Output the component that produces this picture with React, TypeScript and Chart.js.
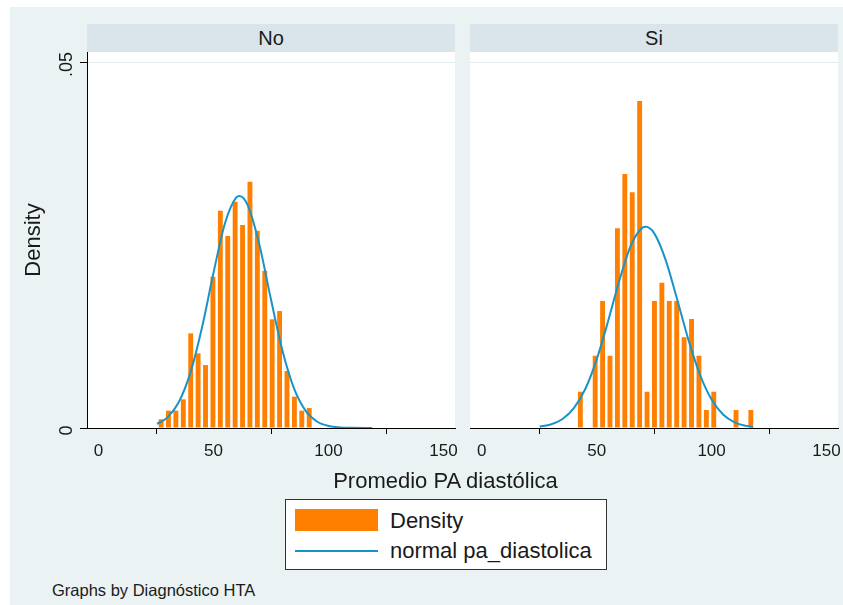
import React, { useEffect, useRef } from "react";
import { Chart, registerables } from "chart.js";

Chart.register(...registerables);

// ---------- data ----------
const panelTitles = ["No", "Si"];
const xTickValues = [0, 50, 100, 150];
const yTickValues = [0, 0.05];
const yTickLabels = ["0", ".05"];

const noBinCenters = [27.21, 30.43, 33.65, 36.87, 40.09, 43.31, 46.53, 49.75, 52.97, 56.19, 59.41, 62.63, 65.85, 69.07, 72.29, 75.51, 78.73, 81.95, 85.17, 88.39, 91.61];
const noDensity = [0.00119, 0.00237, 0.00237, 0.00392, 0.01293, 0.0102, 0.0086, 0.02067, 0.02969, 0.02623, 0.03092, 0.02773, 0.03365, 0.02696, 0.02149, 0.01485, 0.01598, 0.00779, 0.00428, 0.00237, 0.00273];

const siBinCenters = [42.9, 49.35, 52.58, 55.8, 59.03, 62.25, 65.48, 68.7, 71.93, 75.15, 78.38, 81.6, 84.83, 88.05, 91.28, 94.5, 97.73, 100.95, 110.63, 117.08];
const siDensity = [0.00496, 0.00988, 0.01735, 0.00988, 0.02728, 0.0347, 0.0322, 0.04467, 0.00496, 0.01735, 0.01985, 0.01735, 0.01735, 0.01239, 0.01489, 0.00988, 0.00246, 0.00496, 0.00246, 0.00246];

const noCurveX = [25.5, 30, 35, 40, 45, 50, 55, 60, 61.3, 65, 70, 75, 80, 85, 90, 95, 100, 105, 110, 119];
const noCurveY = [0.00056, 0.00145, 0.00359, 0.0076, 0.01373, 0.0212, 0.02798, 0.03153, 0.0317, 0.03036, 0.02498, 0.01755, 0.01054, 0.0054, 0.00237, 0.00089, 0.00028, 0.00008, 0.00002, 0.0];

const siCurveX = [25.2, 30, 35, 40, 45, 50, 55, 60, 65, 70, 71.3, 75, 80, 85, 90, 95, 100, 105, 110, 115, 118];
const siCurveY = [0.00018, 0.00048, 0.0012, 0.00268, 0.0053, 0.00935, 0.01462, 0.0203, 0.02502, 0.02739, 0.0275, 0.02663, 0.02298, 0.0176, 0.01197, 0.00724, 0.00388, 0.00185, 0.00078, 0.00029, 0.00015];

const xTitle = "Promedio PA diastólica";
const yTitle = "Density";
const legendLabels = ["Density", "normal pa_diastolica"];
const note = "Graphs by Diagnóstico HTA";

// ---------- style ----------
const FONT = "'Liberation Sans', Arial, Helvetica, sans-serif";
const ORANGE = "#FF8000";
const BLUE = "#1A93C6";
const BG = "#EAF2F3";
const BAND = "#D9E5EA";
const TEXT = "#1a1a1a";

type PanelProps = {
  left: number;
  width: number;
  binX: number[];
  binY: number[];
  curveX: number[];
  curveY: number[];
  showY: boolean;
};

function Panel({ left, width, binX, binY, curveX, curveY, showY }: PanelProps) {
  const ref = useRef<HTMLCanvasElement | null>(null);
  const yAxisWidth = showY ? 77 : 0;
  const padRight = 10;
  const padTop = 12;
  const canvasW = yAxisWidth + width + padRight;
  const canvasH = 418 + padTop;

  useEffect(() => {
    if (!ref.current) return;
    const yLabelPlugin = {
      id: "yRotLabels",
      afterDraw(chart: any) {
        if (!showY) return;
        const ys = chart.scales.y;
        const ctx = chart.ctx;
        ctx.save();
        ctx.fillStyle = TEXT;
        ctx.font = `18px "Liberation Sans", Arial, sans-serif`;
        ctx.textAlign = "center";
        ctx.textBaseline = "middle";
        yTickValues.forEach((v, i) => {
          const py = ys.getPixelForValue(v);
          ctx.save();
          ctx.translate(ys.right - 20, py + 2.5);
          ctx.rotate(-Math.PI / 2);
          ctx.fillText(yTickLabels[i], 0, 0);
          ctx.restore();
        });
        ctx.restore();
      },
    };

    const chart = new Chart(ref.current, {
      type: "bar",
      data: {
        datasets: [
          {
            type: "line",
            data: curveX.map((x, i) => ({ x, y: curveY[i] })),
            borderColor: BLUE,
            borderWidth: 2,
            pointRadius: 0,
            cubicInterpolationMode: "monotone",
            fill: false,
            order: 0,
          } as any,
          {
            type: "bar",
            data: binX.map((x, i) => ({ x, y: binY[i] })),
            backgroundColor: ORANGE,
            borderWidth: 0,
            barPercentage: 0.66,
            categoryPercentage: 1,
            order: 1,
          } as any,
        ],
      },
      options: {
        animation: false,
        responsive: false,
        maintainAspectRatio: false,
        layout: { padding: { left: 0, top: padTop, right: padRight, bottom: 0 } },
        plugins: { legend: { display: false }, tooltip: { enabled: false } },
        scales: {
          x: {
            type: "linear",
            min: -5,
            max: 155,
            offset: false,
            afterBuildTicks: (s: any) => {
              s.ticks = xTickValues.map((v) => ({ value: v }));
            },
            afterFit: (s: any) => {
              s.height = 42;
            },
            ticks: {
              color: TEXT,
              font: { family: FONT, size: 17 },
              padding: 7,
              maxRotation: 0,
              autoSkip: false,
              callback: (v: any) => String(v),
            },
            grid: {
              drawOnChartArea: false,
              drawTicks: true,
              tickLength: 6,
              tickColor: "#000",
              tickWidth: 1,
            },
            border: { display: true, color: "#000", width: 1 },
          },
          y: {
            type: "linear",
            display: true,
            min: 0,
            max: 0.05137,
            afterBuildTicks: (s: any) => {
              s.ticks = yTickValues.map((v) => ({ value: v }));
            },
            afterFit: (s: any) => {
              s.width = yAxisWidth;
            },
            ticks: { display: false },
            grid: {
              drawOnChartArea: true,
              drawTicks: showY,
              tickLength: showY ? 7 : 0,
              tickColor: "#000",
              tickWidth: 1,
              lineWidth: 1,
              color: (c: any) => (c.tick && c.tick.value > 0 ? "#E3ECEF" : "rgba(0,0,0,0)"),
            },
            border: { display: showY, color: "#000", width: 1 },
            title: {
              display: showY,
              text: yTitle,
              color: TEXT,
              font: { family: FONT, size: 22 },
              padding: { top: 11, bottom: 0 },
            },
          },
        },
      },
      plugins: [yLabelPlugin],
    } as any);
    return () => chart.destroy();
  }, []);

  return (
    <canvas
      ref={ref}
      width={canvasW}
      height={canvasH}
      style={{ position: "absolute", left: left - yAxisWidth, top: 52 - padTop, width: canvasW, height: canvasH }}
    />
  );
}

function Header({ left, width, text }: { left: number; width: number; text: string }) {
  return (
    <div
      style={{
        position: "absolute",
        left,
        top: 24,
        width,
        height: 28,
        background: BAND,
        color: TEXT,
        font: `20px ${FONT}`,
        lineHeight: "28px",
        textAlign: "center",
      }}
    >
      {text}
    </div>
  );
}

export default function App() {
  return (
    <div
      style={{
        position: "absolute",
        left: 0,
        top: 0,
        width: 843,
        height: 605,
        background: "#fff",
        overflow: "hidden",
        fontFamily: FONT,
      }}
    >
      <div style={{ position: "absolute", left: 10, top: 7, right: 0, bottom: 0, background: BG }} />
      <div style={{ position: "absolute", left: 87, top: 52, width: 368, height: 376, background: "#fff" }} />
      <div style={{ position: "absolute", left: 470, top: 52, width: 368, height: 376, background: "#fff" }} />
      <Header left={87} width={368} text={panelTitles[0]} />
      <Header left={470} width={368} text={panelTitles[1]} />
      <Panel left={87} width={368} binX={noBinCenters} binY={noDensity} curveX={noCurveX} curveY={noCurveY} showY={true} />
      <Panel left={470} width={368} binX={siBinCenters} binY={siDensity} curveX={siCurveX} curveY={siCurveY} showY={false} />
      <div
        style={{
          position: "absolute",
          left: 0,
          width: 891,
          top: 467,
          textAlign: "center",
          font: `22px ${FONT}`,
          color: TEXT,
          lineHeight: "28px",
        }}
      >
        {xTitle}
      </div>
      <div
        style={{
          position: "absolute",
          left: 285,
          top: 499,
          width: 320,
          height: 69,
          background: "#fff",
          border: "1px solid #333",
        }}
      >
        <div style={{ position: "absolute", left: 9, top: 9, width: 83, height: 22, background: ORANGE }} />
        <div style={{ position: "absolute", left: 9, top: 50, width: 83, height: 2, background: BLUE }} />
        <div style={{ position: "absolute", left: 104, top: 8, font: `22px ${FONT}`, color: TEXT, lineHeight: "26px" }}>
          {legendLabels[0]}
        </div>
        <div style={{ position: "absolute", left: 104, top: 38, font: `22px ${FONT}`, color: TEXT, lineHeight: "26px" }}>
          {legendLabels[1]}
        </div>
      </div>
      <div style={{ position: "absolute", left: 52, top: 580, font: `16.5px ${FONT}`, color: TEXT, lineHeight: "20px" }}>
        {note}
      </div>
    </div>
  );
}
